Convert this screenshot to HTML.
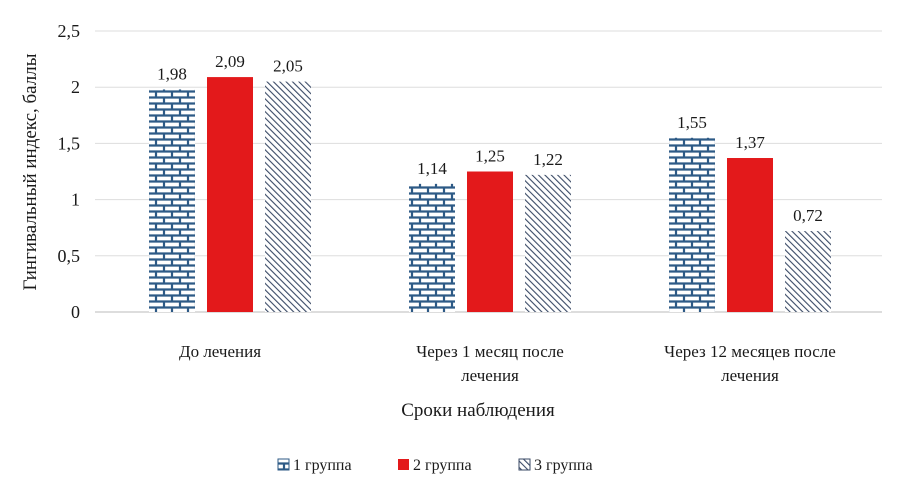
<!DOCTYPE html>
<html><head><meta charset="utf-8"><style>
body{margin:0;background:#fff;}
svg text{font-family:"Liberation Serif",serif;fill:#1a1a1a;}
</style></head><body>
<svg width="900" height="494" xmlns="http://www.w3.org/2000/svg">
<defs>
<pattern id="brick" patternUnits="userSpaceOnUse" width="16" height="12" x="0" y="0">
<rect width="16" height="12" fill="#fff"/>
<path d="M0 1.5H16M0 7.5H16M4 1.5V7.5M12 7.5V12M12 0V1.5" stroke="#2d5a86" stroke-width="2.2" fill="none"/>
</pattern>
<pattern id="diag" patternUnits="userSpaceOnUse" width="4.5" height="4.5" patternTransform="rotate(-45)">
<rect width="4.5" height="4.5" fill="#fff"/>
<line x1="0" y1="0" x2="0" y2="4.5" stroke="#3a4a66" stroke-width="2.2"/>
</pattern>
</defs>
<g id="grid"></g>
<g id="bars"></g>
<text transform="translate(36,172) rotate(-90)" text-anchor="middle" font-size="19">Гингивальный индекс, баллы</text>
<text x="478" y="416" text-anchor="middle" font-size="19">Сроки наблюдения</text>
<g font-size="16">
<rect x="278" y="459" width="11" height="11" fill="url(#brick)" stroke="#2d5a86"/>
<text x="293" y="470">1 группа</text>
<rect x="398" y="459" width="11" height="11" fill="#e3191b"/>
<text x="413" y="470">2 группа</text>
<rect x="519" y="459" width="11" height="11" fill="url(#diag)" stroke="#3a4a66"/>
<text x="534" y="470">3 группа</text>
</g>
</svg>
<script>
const categories=[["До  лечения"],["Через  1 месяц после","лечения"],["Через 12 месяцев после","лечения"]];
const group1=[1.98,1.14,1.55];
const group2=[2.09,1.25,1.37];
const group3=[2.05,1.22,0.72];
const yTicks=[0,0.5,1,1.5,2,2.5];
const yTickLabels=["0","0,5","1","1,5","2","2,5"];
const NS="http://www.w3.org/2000/svg";
const y0=312,yScale=112.4,x0=95,x1=882;
function y(v){return y0-v*yScale;}
function groupCenter(i){return 230+i*260;}
function mk(t,a,p){const e=document.createElementNS(NS,t);for(const k in a)e.setAttribute(k,a[k]);p.appendChild(e);return e;}
const grid=document.getElementById('grid');
yTicks.forEach((t,i)=>{
 const l=mk('line',{x1:x0,x2:x1,y1:y(t),y2:y(t),stroke:i==0?'#bbb':'#ddd','stroke-width':1},grid);
 
 
 const tx=mk('text',{x:80,y:y(t)+6,'text-anchor':'end','font-size':18},grid);
 tx.textContent=yTickLabels[i];
 
 
});
const bars=document.getElementById('bars');
const series=[group1,group2,group3];
const fills=['url(#brick)','#e3191b','url(#diag)'];
const bw=46,gap=58;
categories.forEach((c,i)=>{
 series.forEach((s,j)=>{
  const cx=groupCenter(i)+(j-1)*gap;
  const r=mk('rect',{x:cx-bw/2,y:y(s[i]),width:bw,height:y0-y(s[i]),fill:fills[j]},bars);
  
  
  const t=mk('text',{x:cx,y:y(s[i])-10,'text-anchor':'middle','font-size':17},bars);
  t.textContent=s[i].toFixed(2).replace('.',',');
  
  
 });
 c.forEach((line,k)=>{
  const t=mk('text',{x:groupCenter(i)-(i==0?10:0),y:357+k*24,'text-anchor':'middle','font-size':17},bars);
  t.textContent=line;
  
  
 });
});
</script>
</body></html>
